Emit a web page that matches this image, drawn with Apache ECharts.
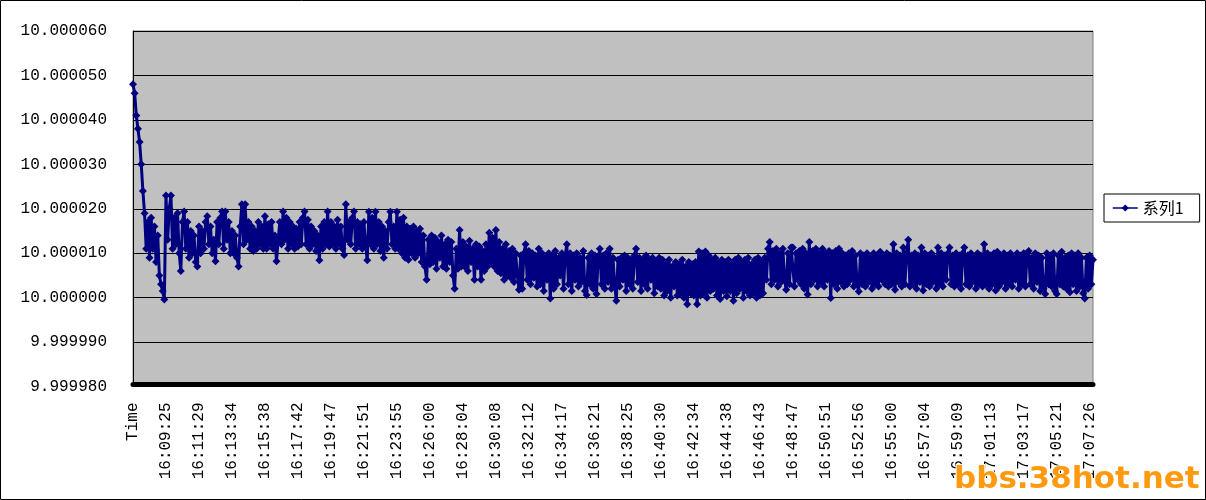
<!DOCTYPE html>
<html>
<head>
<meta charset="utf-8">
<script src="https://cdn.jsdelivr.net/npm/echarts@6/dist/echarts.min.js"></script>
<style>
html,body{margin:0;padding:0;background:#fff;}
#chart{width:1206px;height:500px;}
</style>
</head>
<body>
<div id="chart"></div>
<script>
// Tick labels shown on the category axis (one every 20 samples)
const tickLabels = ["Time","16:09:25","16:11:29","16:13:34","16:15:38","16:17:42","16:19:47","16:21:51","16:23:55","16:26:00","16:28:04","16:30:08","16:32:12","16:34:17","16:36:21","16:38:25","16:40:30","16:42:34","16:44:38","16:46:43","16:48:47","16:50:51","16:52:56","16:55:00","16:57:04","16:59:09","17:01:13","17:03:17","17:05:21","17:07:26"];
const labelEvery = 20;

// 系列1 readings, split by phase of the run
const warmup = [
10.000048, 10.000046, 10.000041, 10.000038, 10.000035, 10.00003, 10.000024, 10.000019, 10.000011, 10.000017, 10.000009, 10.000018, 10.000011, 10.000016, 10.000008, 10.000014, 10.000005, 10.000003, 10.0000015, 9.9999996,
10.000023, 10.000013, 10.00002, 10.000023, 10.000011, 10.000018, 10.000012, 10.000019, 10.00001, 10.000006, 10.000017, 10.0000194, 10.000011, 10.000017, 10.000009, 10.000015, 10.00001, 10.000014, 10.000008, 10.000007,
10.000016, 10.00001, 10.000015, 10.000011, 10.000017, 10.0000183, 10.000012, 10.000016, 10.00001, 10.000013, 10.0000082, 10.000017, 10.000012, 10.000018, 10.0000194, 10.000011, 10.0000194, 10.000013, 10.000017, 10.00001,
10.000015, 10.00001, 10.000014, 10.000009, 10.000007, 10.000016, 10.000021, 10.000012, 10.000021, 10.000013, 10.000017, 10.000011, 10.000016, 10.0000105, 10.000015, 10.000011, 10.000017, 10.000012, 10.000016, 10.000011];
const plateau = [
10.0000183, 10.000011, 10.0000165, 10.000012, 10.000017, 10.000011, 10.000014, 10.0000082, 10.000013, 10.000017, 10.000012, 10.0000194, 10.000013, 10.000018, 10.000011, 10.000017, 10.000012, 10.000016, 10.000011, 10.0000155,
10.0000115, 10.000017, 10.000012, 10.000018, 10.0000194, 10.000012, 10.0000175, 10.000011, 10.000016, 10.000012, 10.000015, 10.0000105, 10.000014, 10.0000084, 10.000016, 10.000011, 10.000017, 10.000012, 10.0000194, 10.0000115,
10.000017, 10.000012, 10.000016, 10.000011, 10.0000175, 10.000012, 10.000016, 10.000011, 10.0000096, 10.000021, 10.000013, 10.000017, 10.000012, 10.000018, 10.0000194, 10.000011, 10.000017, 10.000012, 10.0000165, 10.000011,
10.000017, 10.000012, 10.0000084, 10.0000193, 10.000012, 10.000018, 10.000011, 10.0000193, 10.000012, 10.000017, 10.0000105, 10.000016, 10.000009, 10.000015, 10.000011, 10.000017, 10.0000193, 10.000012, 10.000016, 10.000011];
const decline = [
10.0000193, 10.000011, 10.0000175, 10.00001, 10.000018, 10.000009, 10.000016, 10.0000085, 10.0000155, 10.00001, 10.000016, 10.000009, 10.000015, 10.00001, 10.0000155, 10.000008, 10.000014, 10.000007, 10.000004, 10.000013,
10.0000075, 10.000014, 10.000008, 10.0000135, 10.0000065, 10.0000125, 10.000009, 10.000014, 10.000007, 10.000012, 10.0000065, 10.000013, 10.000008, 10.0000125, 10.000005, 10.000002, 10.000011, 10.0000065, 10.0000152, 10.000007,
10.0000125, 10.000007, 10.0000115, 10.000006, 10.0000128, 10.000008, 10.000011, 10.000004, 10.000012, 10.000007, 10.0000115, 10.000004, 10.0000105, 10.000006, 10.000012, 10.000007, 10.0000146, 10.000008, 10.0000135, 10.000007,
10.0000152, 10.000006, 10.0000125, 10.0000055, 10.000011, 10.000004, 10.000012, 10.000005, 10.0000105, 10.0000045, 10.000011, 10.0000035, 10.00001, 10.000005, 10.0000018, 10.0000095, 10.000002, 10.00001, 10.000012, 10.000004,
10.0000105, 10.000003, 10.00001, 10.0000045, 10.0000095, 10.0000025, 10.000011, 10.000003, 10.00001, 10.0000015, 10.000009, 10.000004, 10.00001, 9.9999998, 10.0000095, 10.000002, 10.0000105, 10.000003, 10.000009, 10.000005];
const lowBand = [
10.00001, 10.000002, 10.0000095, 10.000012, 10.000003, 10.00001, 10.0000015, 10.0000095, 10.000004, 10.00001, 10.0000025, 10.000009, 10.0000035, 10.0000105, 10.0000015, 10.0000006, 10.000009, 10.000003, 10.00001, 10.000002,
10.0000095, 10.0000008, 10.000009, 10.000011, 10.000003, 10.0000095, 10.000002, 10.00001, 10.0000035, 10.000011, 10.000002, 10.000009, 10.000003, 9.9999993, 10.0000085, 10.0000025, 10.000009, 10.000004, 10.0000095, 10.0000015,
10.000009, 10.000003, 10.0000085, 10.000002, 10.0000095, 10.000011, 10.0000035, 10.000009, 10.0000015, 10.0000085, 10.000003, 10.0000095, 10.000002, 10.0000085, 10.000004, 10.000009, 10.000001, 10.000008, 10.0000025, 10.000009,
10.000002, 10.0000085, 10.0000005, 10.0000075, 10.0000015, 10.0000085, 10, 10.000007, 10.0000025, 10.000008, 10.0000005, 10.0000075, 10.000001, 10.0000085, 10, 10.000007, 9.9999985, 10.000008, 10.000001, 10.0000075,
10.0000005, 10.000008, 9.9999985, 10.0000104, 10.0000005, 10.00001, 10.000001, 10.0000104, 10, 10.0000095, 10.0000015, 10.0000085, 10.000002, 10.000009, 10.0000005, 10.000008, 9.9999997, 10.0000085, 10.0000015, 10.000008,
10.0000003, 10.0000085, 10.0000015, 10.0000075, 9.9999993, 10.0000085, 10.000001, 10.000009, 10.000002, 10.000008, 10, 10.0000085, 10.0000015, 10.000009, 10.0000005, 10.0000075, 10.000001, 10.0000085, 10, 10.000009];
const finalBand = [
10.0000005, 10.000008, 10.000001, 10.000009, 10.000004, 10.000011, 10.0000125, 10.000003, 10.0000105, 10.000004, 10.000011, 10.0000025, 10.00001, 10.0000035, 10.000011, 10.000004, 10.0000018, 10.00001, 10.000003, 10.0000113,
10.0000113, 10.0000025, 10.00001, 10.000004, 10.0000105, 10.000003, 10.000011, 10.000002, 10.00001, 10.0000007, 10.0000125, 10.000003, 10.0000105, 10.000004, 10.000011, 10.0000025, 10.00001, 10.0000035, 10.000011, 10.0000025,
10.00001, 10.000004, 10.0000105, 9.9999999, 10.00001, 10.000003, 10.0000105, 10.000002, 10.000011, 10.0000035, 10.00001, 10.0000025, 10.0000095, 10.000003, 10.00001, 10.000004, 10.0000105, 10.0000025, 10.0000095, 10.000003,
10.0000014, 10.00001, 10.000003, 10.0000095, 10.0000025, 10.00001, 10.0000035, 10.000009, 10.000002, 10.00001, 10.000003, 10.0000095, 10.0000025, 10.0000103, 10.000004, 10.0000095, 10.000003, 10.00001, 10.0000025, 10.0000095,
10.000003, 10.000012, 10.0000018, 10.00001, 10.0000035, 10.0000095, 10.0000025, 10.0000113, 10.000003, 10.00001, 10.000013, 10.0000025, 10.0000095, 10.000003, 10.00001, 10.000002, 10.0000095, 10.0000035, 10.0000113, 10.0000016,
10.00001, 10.000003, 10.0000095, 10.0000025, 10.00001, 10.0000035, 10.000009, 10.000002, 10.0000113, 10.000003, 10.00001, 10.0000025, 10.0000095, 10.000004, 10.00001, 10.0000113, 10.000003, 10.0000095, 10.0000025, 10.00001,
10.000003, 10.0000095, 10.000002, 10.00001, 10.0000113, 10.000003, 10.0000095, 10.0000025, 10.00001, 10.0000035, 10.000009, 10.000002, 10.00001, 10.000003, 10.0000095, 10.0000025, 10.000012, 10.000003, 10.00001, 10.000002,
10.0000095, 10.000003, 10.00001, 10.0000016, 10.0000103, 10.0000025, 10.0000095, 10.0000035, 10.00001, 10.000002, 10.0000095, 10.000003, 10.00001, 10.0000025, 10.000009, 10.000004, 10.00001, 10.000002, 10.0000095, 10.000003,
10.00001, 10.0000025, 10.0000095, 10.0000105, 10.000003, 10.000009, 10.000002, 10.00001, 10.0000035, 10.0000095, 10.0000015, 10.000009, 10.000002, 10.0000008, 10.00001, 10.000003, 10.0000095, 10.0000025, 10.00001, 10.0000015,
10.0000008, 10.0000095, 10.000003, 10.0000103, 10.0000025, 10.000009, 10.000002, 10.0000095, 10.0000012, 10.00001, 10.000003, 10.0000095, 10.0000015, 10.00001, 10.0000025, 10.000009, 10.000001, 9.9999998, 10.000009, 10.000002,
10.0000095, 10.000003, 10.0000085];

const seriesName = "系列1";
const yMin = 9.99998, yMax = 10.00006, yStep = 0.00001;

const values = [...warmup, ...plateau, ...decline, ...lowBand, ...finalBand];
const categories = values.map((_, i) => (i % labelEvery === 0 && tickLabels[i / labelEvery] !== undefined) ? tickLabels[i / labelEvery] : "");

const chart = echarts.init(document.getElementById("chart"), null, {renderer: "canvas"});
const monoFont = '"Liberation Mono", "DejaVu Sans Mono", monospace';
chart.setOption({
  animation: false,
  backgroundColor: "#ffffff",
  grid: {
    left: 133, top: 31, right: 113, bottom: 113.5,
    show: true, backgroundColor: "#c0c0c0", borderColor: "#808080", borderWidth: 1,
    containLabel: false
  },
  legend: {
    show: true,
    data: [seriesName],
    left: 1104, top: 194,
    orient: "vertical",
    padding: [6, 16, 6, 8],
    borderColor: "#000", borderWidth: 1,
    itemWidth: 25, itemHeight: 9,
    itemStyle: {color: "#000080"},
    lineStyle: {color: "#000080", width: 1.5},
    textStyle: {fontFamily: '"Noto Sans CJK SC", sans-serif', fontSize: 16, color: "#000"}
  },
  xAxis: {
    type: "category",
    data: categories,
    boundaryGap: false,
    offset: -2,
    axisLine: {show: true, lineStyle: {color: "#000", width: 5}},
    axisTick: {show: false},
    splitLine: {show: false},
    axisLabel: {
      interval: labelEvery - 1, rotate: 90, margin: 18,
      fontFamily: monoFont, fontSize: 16, color: "#000"
    }
  },
  yAxis: {
    type: "value",
    min: yMin, max: yMax, interval: yStep,
    axisLine: {show: true, lineStyle: {color: "#000", width: 1}},
    axisTick: {show: false},
    splitLine: {show: true, lineStyle: {color: "#000", width: 1}},
    axisLabel: {
      margin: 26, fontFamily: monoFont, fontSize: 16, color: "#000",
      formatter: v => v.toFixed(6)
    }
  },
  series: [{
    name: seriesName,
    type: "line",
    data: values,
    showAllSymbol: true,
    symbol: "diamond",
    symbolSize: 8,
    sampling: null,
    lineStyle: {color: "#000080", width: 3},
    itemStyle: {color: "#000080"}
  }],
  graphic: [
    {type: "rect", silent: true, z: 100, shape: {x: 0.5, y: 0.5, width: 1205, height: 499}, style: {fill: "none", stroke: "#000", lineWidth: 1}},
    {type: "text", silent: true, z: 110, left: 953, top: 463,
     style: {text: "bbs.38hot.net", fill: "#ff9a10", stroke: "#ffffff", lineWidth: 2, font: 'bold 31px "DejaVu Sans", sans-serif'}}
  ]
});
</script>
</body>
</html>
